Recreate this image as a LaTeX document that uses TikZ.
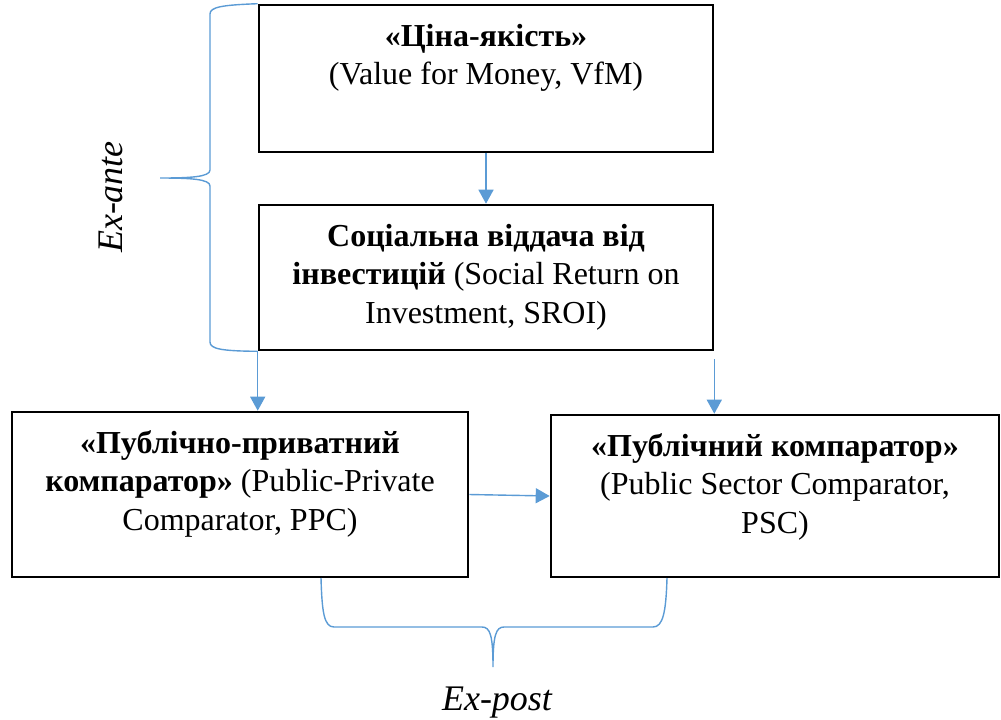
\documentclass[tikz,border=0pt]{standalone}
\usepackage{fontspec}
\setmainfont{Liberation Serif}
\usepackage{tikz}
\usetikzlibrary{arrows.meta,positioning,calc}
\definecolor{wblue}{HTML}{5B9BD5}
\tikzset{
  >={Triangle[length=7pt,width=7.5pt]},
  box/.style={draw=black,line width=1.3pt,inner sep=0pt},
  txt/.style={anchor=north,inner sep=0pt,align=center,font=\fontsize{16}{19.25}\selectfont},
  arr/.style={->,draw=wblue,line width=0.7pt},
  brc/.style={draw=wblue,line width=0.7pt},
  tag/.style={font=\fontsize{18}{21}\selectfont\itshape,inner sep=0pt,anchor=base},
}

\begin{document}
\begin{tikzpicture}[x=0.5pt,y=-0.5pt]
\useasboundingbox (0,0) rectangle (1001,719);
% boxes
\node[box,minimum width=227pt,minimum height=73.5pt] (vfm) at (486,78.5) {};
\node[box,minimum width=227pt,minimum height=72.5pt] (sroi) at (486,277.5) {};
\node[box,minimum width=228pt,minimum height=82.5pt] (ppc) at (240,494.5) {};
\node[box,minimum width=224pt,minimum height=81pt] (psc) at (775,496) {};
% texts
\node[txt] (vfmt) at ($(vfm.north)+(0,15)$) {\strut\textbf{«Ціна-якість»}\\(Value for Money, VfM)};
\node[txt] (sroit) at ($(sroi.north)+(0,15)$) {\strut\textbf{Соціальна віддача від}\\\textbf{інвестицій} (Social Return on\\Investment, SROI)};
\node[txt] (ppct) at ($(ppc.north)+(0,15)$) {\strut\textbf{«Публічно-приватний}\\\textbf{компаратор»} (Public-Private\\Comparator, PPC)};
\node[txt] (psct) at ($(psc.north)+(0,15)$) {\strut\textbf{«Публічний компаратор»}\\(Public Sector Comparator,\\PSC)};
% arrows
\draw[arr] (vfm) -- (sroi);
\draw[arr] (sroi.south west) -- (sroi.south west |- ppc.north);
\draw[arr,shorten <=4pt] (sroi.south east) -- (sroi.south east |- psc.north);
\draw[arr] (ppc.east) -- (psc.west);
% braces
\draw[brc] (vfm.north west) .. controls (222,5) and (210,7) .. (210,14) -- (210,170)
  .. controls (210,177) and (190,178) .. (160,178)
  .. controls (190,178) and (210,179) .. (210,186) -- (210,342)
  .. controls (210,349) and (222,351) .. (sroi.south west);
\draw[brc] (321,578) .. controls (322,612) and (324,627) .. (334,627) -- (482,627)
  .. controls (490,627) and (493,635) .. (493,667)
  .. controls (493,635) and (496,627) .. (504,627) -- (653,627)
  .. controls (663,627) and (666,612) .. (667,578);
\node[tag,rotate=90] (ante) at (122,197) {Ex-ante};
\node[tag] (post) at (497,710) {Ex-post};
\end{tikzpicture}
\end{document}
